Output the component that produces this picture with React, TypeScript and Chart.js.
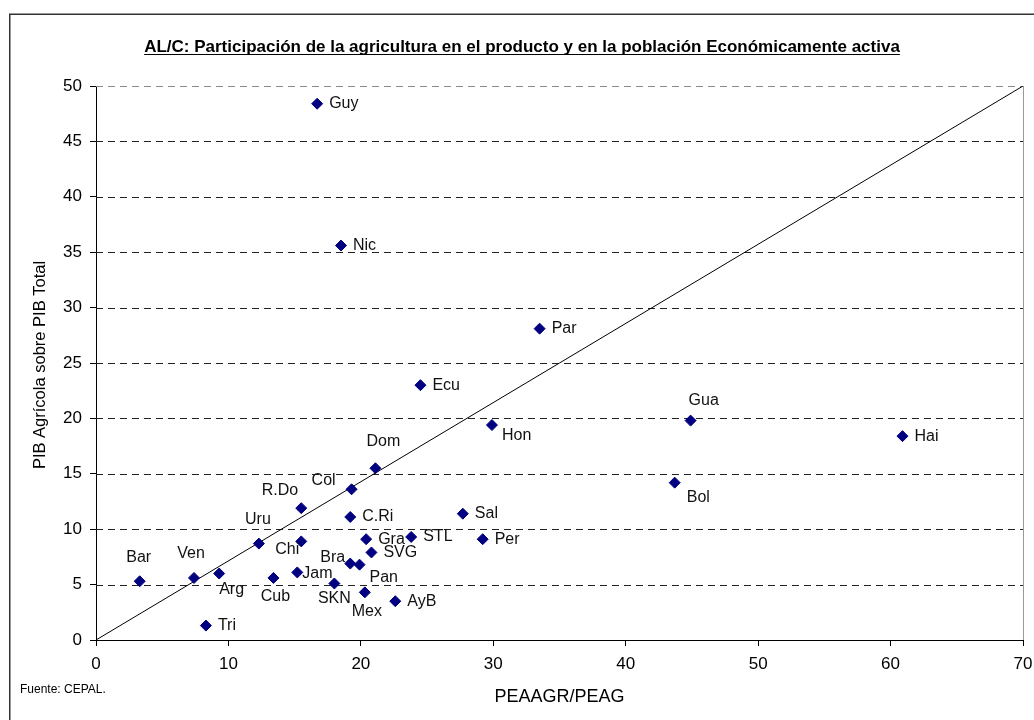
import React, { useEffect, useRef } from "react";
import { Chart, registerables } from "chart.js";

Chart.register(...registerables);

const countries = ["Guy", "Nic", "Par", "Ecu", "Hon", "Gua", "Hai", "Bol", "Dom", "Col", "R.Do", "C.Ri", "Sal", "Uru", "Chi", "Gra", "STL", "Per", "SVG", "Bra", "Pan", "Jam", "Cub", "SKN", "Mex", "AyB", "Bar", "Ven", "Arg", "Tri"];
const peaShare = [16.7, 18.5, 33.5, 24.5, 29.9, 44.9, 60.9, 43.7, 21.1, 19.3, 15.5, 19.2, 27.7, 12.3, 15.5, 20.4, 23.8, 29.2, 20.8, 19.2, 19.9, 15.2, 13.4, 18.0, 20.3, 22.6, 3.3, 7.4, 9.3, 8.3];
const pibShare = [48.4, 35.6, 28.1, 23.0, 19.4, 19.8, 18.4, 14.2, 15.5, 13.6, 11.9, 11.1, 11.4, 8.7, 8.9, 9.1, 9.3, 9.1, 7.9, 6.9, 6.8, 6.1, 5.6, 5.1, 4.3, 3.5, 5.3, 5.6, 6.0, 1.3];
const refLineX = [0, 70];
const refLineY = [0, 50];
const xTickValues = [0, 10, 20, 30, 40, 50, 60, 70];
const yTickValues = [0, 5, 10, 15, 20, 25, 30, 35, 40, 45, 50];

const titleText = "AL/C: Participación de la agricultura en el producto y en la población Económicamente activa";
const xTitle = "PEAAGR/PEAG";
const yTitle = "PIB Agrícola sobre PIB Total";
const sourceText = "Fuente: CEPAL.";

// label placement (style): [dx, dy, align]
const labelOffsets: Record<string, [number, number, CanvasTextAlign]> = {
  Guy: [12, 0, "left"], Nic: [12, 0, "left"], Par: [12, 0, "left"], Ecu: [12, 0, "left"],
  Hon: [10, 11, "left"], Gua: [-2, -20, "left"], Hai: [12, 0, "left"], Bol: [12, 15, "left"],
  Dom: [-9, -27, "left"], Col: [-16, -9, "right"], "R.Do": [-3, -18, "right"], "C.Ri": [12, 0, "left"],
  Sal: [12, 0, "left"], Uru: [-1, -24, "center"], Chi: [-2, 8, "right"], Gra: [12, 0, "left"],
  STL: [12, 0, "left"], Per: [12, 0, "left"], SVG: [12, 0, "left"], Bra: [-5, -6, "right"],
  Pan: [10, 13, "left"], Jam: [5, 1, "left"], Cub: [2, 19, "center"], SKN: [0, 15, "center"],
  Mex: [2, 19, "center"], AyB: [12, 0, "left"], Bar: [-1, -24, "center"], Ven: [-3, -24, "center"],
  Arg: [0, 16, "left"], Tri: [12, 0, "left"],
};

const FONT = "'Liberation Sans', Arial, sans-serif";

const decorPlugin = {
  id: "decor",
  beforeDatasetsDraw(chart: any) {
    const { ctx, chartArea: a, scales } = chart;
    const y = scales.y;
    ctx.save();
    ctx.lineWidth = 1;
    ctx.setLineDash([7, 5]);
    for (const v of yTickValues) {
      if (v === 0) continue;
      const py = Math.round(y.getPixelForValue(v)) + 0.5;
      ctx.strokeStyle = v === 50 ? "#8a8a8a" : "#222";
      ctx.beginPath();
      ctx.moveTo(a.left, py);
      ctx.lineTo(a.right, py);
      ctx.stroke();
    }
    ctx.setLineDash([]);
    ctx.strokeStyle = "#9a9a9a";
    ctx.beginPath();
    ctx.moveTo(Math.round(a.right) + 0.5, a.top);
    ctx.lineTo(Math.round(a.right) + 0.5, a.bottom);
    ctx.stroke();
    ctx.restore();
  },
  afterDraw(chart: any) {
    const { ctx, chartArea: a } = chart;
    ctx.save();
    // frame
    ctx.strokeStyle = "#333";
    ctx.lineWidth = 1.5;
    ctx.beginPath();
    ctx.moveTo(9.75, 730);
    ctx.lineTo(9.75, 14.25);
    ctx.lineTo(1040, 14.25);
    ctx.stroke();

    // title
    ctx.fillStyle = "#000";
    ctx.font = `bold 17px ${FONT}`;
    ctx.textAlign = "center";
    ctx.textBaseline = "alphabetic";
    const tx = 522;
    const ty = 52;
    ctx.fillText(titleText, tx, ty);
    const w = ctx.measureText(titleText).width;
    ctx.lineWidth = 1;
    ctx.strokeStyle = "#000";
    ctx.beginPath();
    ctx.moveTo(tx - w / 2, ty + 2.5);
    ctx.lineTo(tx + w / 2, ty + 2.5);
    ctx.stroke();

    // axis titles
    ctx.font = `18px ${FONT}`;
    ctx.textBaseline = "middle";
    ctx.fillText(xTitle, (a.left + a.right) / 2, 697);
    ctx.font = `16.5px ${FONT}`;
    ctx.save();
    ctx.translate(40, (a.top + a.bottom) / 2 + 2);
    ctx.rotate(-Math.PI / 2);
    ctx.fillText(yTitle, 0, 0);
    ctx.restore();

    // source
    ctx.font = `12px ${FONT}`;
    ctx.textAlign = "left";
    ctx.fillText(sourceText, 20, 690);

    // point labels
    const meta = chart.getDatasetMeta(0);
    ctx.font = `16px ${FONT}`;
    ctx.fillStyle = "#111";
    ctx.textBaseline = "middle";
    meta.data.forEach((pt: any, i: number) => {
      const name = countries[i];
      const off = labelOffsets[name] || [12, 0, "left"];
      ctx.textAlign = off[2];
      ctx.fillText(name, pt.x + off[0], pt.y + off[1]);
    });
    ctx.restore();
  },
};

export default function App() {
  const ref = useRef<HTMLCanvasElement | null>(null);
  useEffect(() => {
    if (!ref.current) return;
    const chart = new Chart(ref.current, {
      type: "scatter",
      data: {
        datasets: [
          {
            label: "Países",
            data: countries.map((_, i) => ({ x: peaShare[i], y: pibShare[i] })),
            pointStyle: "rectRot",
            pointRadius: 5.5,
            pointBorderWidth: 1,
            backgroundColor: "#000080",
            borderColor: "#000080",
            showLine: false,
          },
          {
            type: "line",
            label: "ref",
            data: refLineX.map((v, i) => ({ x: v, y: refLineY[i] })),
            borderColor: "#000",
            borderWidth: 1,
            pointRadius: 0,
            fill: false,
          } as any,
        ],
      },
      options: {
        animation: false,
        responsive: false,
        devicePixelRatio: 1,
        layout: { padding: { top: 86, right: 11, left: 0, bottom: 0 } },
        plugins: { legend: { display: false }, tooltip: { enabled: false }, title: { display: false } },
        scales: {
          x: {
            type: "linear",
            min: 0,
            max: 70,
            afterBuildTicks: (s: any) => { s.ticks = xTickValues.map((v) => ({ value: v })); },
            ticks: { color: "#000", font: { family: FONT, size: 17 }, padding: 8, maxRotation: 0 },
            grid: { drawOnChartArea: false, tickLength: 6, color: "#000" },
            border: { color: "#000", width: 1 },
            afterFit: (s: any) => { s.height = 80; s.paddingLeft = 0; s.paddingRight = 0; },
          },
          y: {
            type: "linear",
            min: 0,
            max: 50,
            afterBuildTicks: (s: any) => { s.ticks = yTickValues.map((v) => ({ value: v })); },
            ticks: { color: "#000", font: { family: FONT, size: 17 }, padding: 8 },
            grid: { drawOnChartArea: false, tickLength: 6, color: "#000" },
            border: { color: "#000", width: 1 },
            afterFit: (s: any) => { s.width = 96; s.paddingTop = 0; s.paddingBottom = 0; },
          },
        },
      },
      plugins: [decorPlugin],
    });
    return () => chart.destroy();
  }, []);
  return (
    <div style={{ position: "absolute", left: 0, top: 0, width: 1034, height: 720, background: "#fff" }}>
      <canvas ref={ref} width={1034} height={720} style={{ display: "block" }} />
    </div>
  );
}
